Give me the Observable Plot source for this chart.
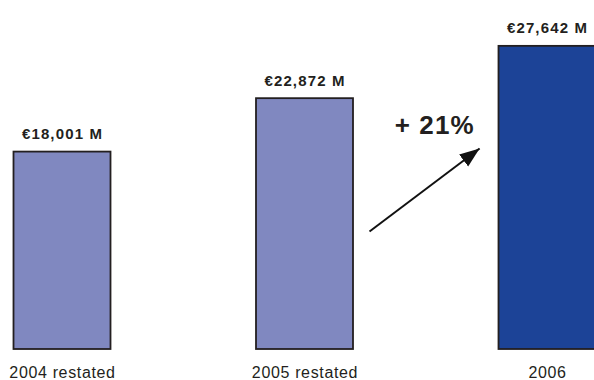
<!DOCTYPE html>
<html><head><meta charset="utf-8">
<script src="https://cdn.jsdelivr.net/npm/d3@7"></script>
<script src="https://cdn.jsdelivr.net/npm/@observablehq/plot@0.6"></script>
<style>
html,body{margin:0;padding:0;overflow:hidden;background:#fff;}
#chart svg{overflow:hidden;}
#chart svg text{letter-spacing:1.15px;}
#chart svg > g:nth-of-type(3) text{letter-spacing:0.65px;}
</style>
</head><body><div id="chart"></div>
<script>
const categories = ["2004 restated", "2005 restated", "2006"];
const values = [18001, 22872, 27642];
const valueLabels = ["€18,001 M", "€22,872 M", "€27,642 M"];
const barColors = ["#8088c0", "#8088c0", "#1c4397"];
const growthLabel = "+ 21%";
// annotation anchors in data units (x = category index, y = € M)
const arrowFrom = [1.266, 10760];
const arrowTo = [1.72, 18330];
const growthLabelAt = [1.535, 19650];

const data = categories.map((c, i) => ({i, category: c, value: values[i], label: valueLabels[i], color: barColors[i]}));

function filledArrowHead(color, context) {
  const doc = (context && context.document) || document;
  const ns = "http://www.w3.org/2000/svg";
  const m = doc.createElementNS(ns, "marker");
  m.setAttribute("viewBox", "-20 -8 20 16");
  m.setAttribute("refX", "0");
  m.setAttribute("refY", "0");
  m.setAttribute("markerWidth", "20");
  m.setAttribute("markerHeight", "16");
  m.setAttribute("markerUnits", "userSpaceOnUse");
  m.setAttribute("orient", "auto");
  const p = doc.createElementNS(ns, "path");
  p.setAttribute("d", "M-20,-7.5L0,0L-20,7.5Z");
  p.setAttribute("fill", color);
  p.setAttribute("stroke", "none");
  m.appendChild(p);
  return m;
}

const chart = Plot.plot({
  width: 594,
  height: 380,
  marginLeft: 62,
  marginRight: 47,
  marginTop: 20,
  marginBottom: 31,
  x: {domain: [0, 2], axis: null},
  y: {domain: [0, 30000], axis: null},
  color: {type: "identity"},
  style: {fontFamily: "'Liberation Sans', Arial, sans-serif", background: "white", color: "#231f20", overflow: "hidden"},
  marks: [
    Plot.rectY(data, {x1: d => d.i - 0.2, x2: d => d.i + 0.2, y1: 0, y2: "value", fill: "color", stroke: "#231f20", strokeWidth: 1.8}),
    Plot.text(data, {x: "i", y: "value", text: "label", dy: -13, lineAnchor: "bottom", fontSize: 15, fontWeight: "bold", fill: "#231f20"}),
    Plot.text(data, {x: "i", y: 0, text: "category", dy: 28, lineAnchor: "bottom", fontSize: 16, fill: "#231f20"}),
    Plot.link([{x1: arrowFrom[0], y1: arrowFrom[1], x2: arrowTo[0], y2: arrowTo[1]}], {x1: "x1", y1: "y1", x2: "x2", y2: "y2", stroke: "#111111", strokeWidth: 2, markerEnd: filledArrowHead}),
    Plot.text([{x: growthLabelAt[0], y: growthLabelAt[1], t: growthLabel}], {x: "x", y: "y", text: "t", lineAnchor: "bottom", fontSize: 26, fontWeight: "bold", fill: "#231f20"})
  ]
});
document.getElementById("chart").appendChild(chart);
</script>
</body></html>
